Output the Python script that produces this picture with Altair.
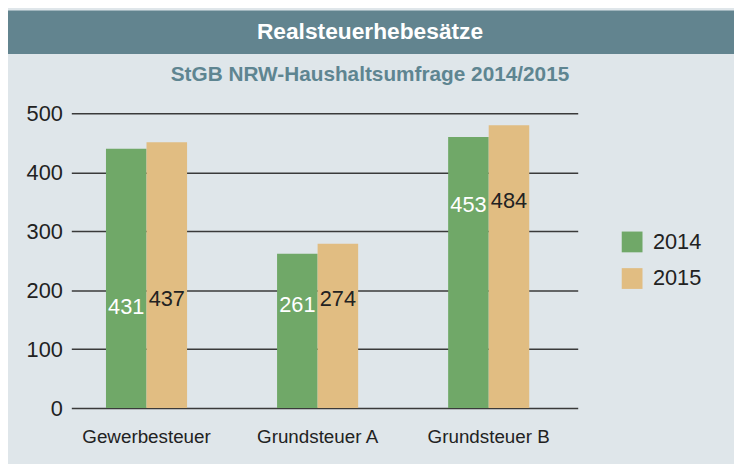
import altair as alt
import pandas as pd

categories = ["Gewerbesteuer", "Grundsteuer A", "Grundsteuer B"]
years = ["2014", "2015"]
# bar heights as drawn in the picture
bar_2014 = [440, 262, 460]
bar_2015 = [451, 279, 480]
# values printed on the bars
label_2014 = [431, 261, 453]
label_2015 = [437, 274, 484]
# height (data units) at which the printed value sits
label_at_2014 = [171, 175, 344]
label_at_2015 = [185, 185, 351]

title_text = "Realsteuerhebesätze"
subtitle_text = "StGB NRW-Haushaltsumfrage 2014/2015"

rows = []
for i, c in enumerate(categories):
    rows.append({"cat": c, "year": "2014", "bar": bar_2014[i], "label": label_2014[i], "label_at": label_at_2014[i]})
    rows.append({"cat": c, "year": "2015", "bar": bar_2015[i], "label": label_2015[i], "label_at": label_at_2015[i]})
df = pd.DataFrame(rows)

FONT = "Liberation Sans, Arial, sans-serif"
GREEN = "#70A868"
TAN = "#E1BD82"
HEADER = "#62848F"
SUB = "#5E8591"
BG = "#DFE6EA"
TEXT = "#222222"

x_enc = alt.X(
    "cat:N", sort=categories,
    scale=alt.Scale(paddingInner=0.526, paddingOuter=0.243, align=0.417),
    axis=alt.Axis(title=None, labelAngle=0, ticks=False, domain=False, grid=False,
                  labelPadding=20, labelFontSize=19, labelColor=TEXT, labelFont=FONT),
)
xoff = alt.XOffset("year:N", sort=years, scale=alt.Scale(paddingInner=0, paddingOuter=0))
y_enc = alt.Y(
    "bar:Q", scale=alt.Scale(domain=[0, 500], nice=False),
    axis=alt.Axis(title=None, values=[0, 100, 200, 300, 400, 500], domain=False, ticks=False,
                  labelPadding=9, labelFontSize=22, labelColor=TEXT, labelFont=FONT,
                  gridColor="#3a3a3a", gridWidth=1.5, gridOpacity=1),
)

base = alt.Chart(df)

bars = base.mark_bar().encode(
    x=x_enc, xOffset=xoff, y=y_enc,
    color=alt.Color("year:N", sort=years,
                    scale=alt.Scale(domain=years, range=[GREEN, TAN]),
                    legend=alt.Legend(title=None, orient="none", legendX=556, legendY=119,
                                      symbolType="square", symbolSize=441, symbolStrokeWidth=0,
                                      symbolOpacity=1, labelFontSize=22, labelFont=FONT,
                                      labelColor=TEXT, labelOffset=10, rowPadding=15)),
)

labels = base.mark_text(fontSize=22, font=FONT, baseline="middle").encode(
    x=x_enc, xOffset=xoff,
    y=alt.Y("label_at:Q"),
    text=alt.Text("label:N"),
    color=alt.Color("year:N", scale=alt.Scale(domain=years, range=["#ffffff", TEXT]), legend=None),
)

one = pd.DataFrame({"k": [0]})
header = alt.Chart(one).mark_rect(color=HEADER).encode(
    x=alt.value(-64), x2=alt.value(670), y=alt.value(-104), y2=alt.value(-60)
)
title = alt.Chart(one).mark_text(
    text=title_text, font=FONT, fontSize=23, fontWeight="bold", color="white",
    align="center", baseline="alphabetic",
).encode(x=alt.value(302), y=alt.value(-75))
subtitle = alt.Chart(one).mark_text(
    text=subtitle_text, font=FONT, fontSize=21, fontWeight="bold", color=SUB,
    align="center", baseline="alphabetic",
).encode(x=alt.value(302), y=alt.value(-33))

chart = alt.layer(header, title, subtitle, bars, labels).resolve_scale(color="independent").properties(
    width=512, height=298,
    autosize=alt.AutoSizeParams(type="none"),
    padding={"left": 64, "top": 104, "right": 158, "bottom": 54},
    background=BG,
).configure_view(stroke=None)

chart.save("out.html", embed_options={"renderer": "svg", "actions": False})
